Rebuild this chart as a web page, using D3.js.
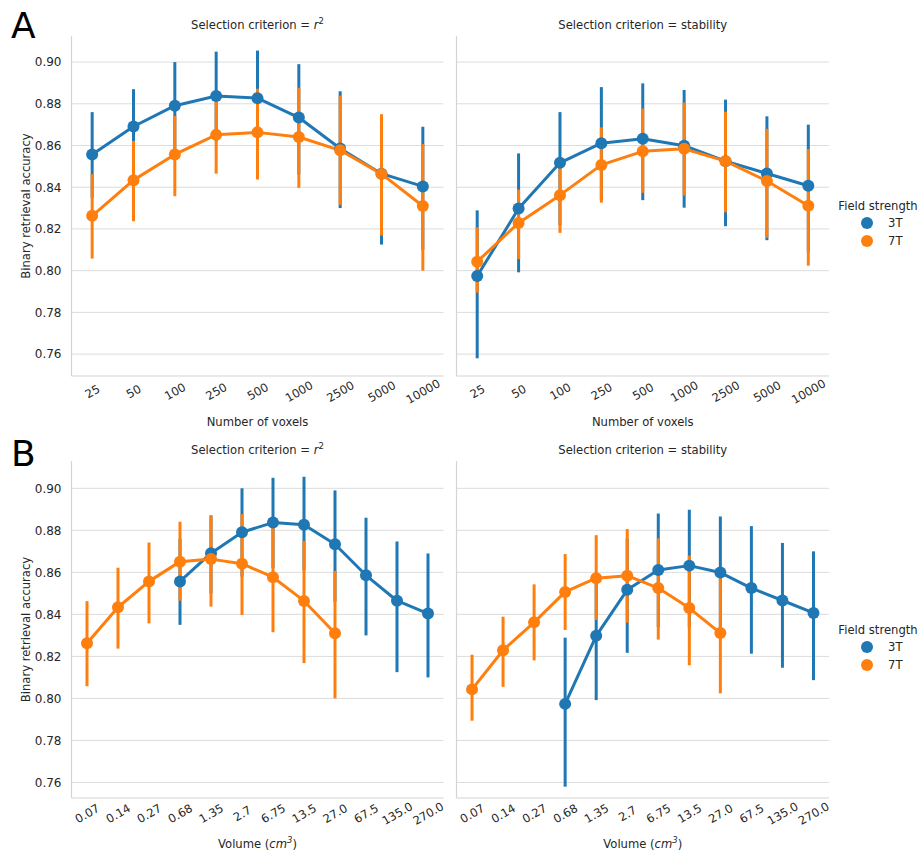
<!DOCTYPE html>
<html>
<head>
<meta charset="utf-8">
<script src="https://cdn.jsdelivr.net/npm/d3@7/dist/d3.min.js"></script>
<style>
  html, body { margin: 0; padding: 0; background: #fff; }
  svg { display: block; font-family: "DejaVu Sans", sans-serif; }
</style>
</head>
<body>
<svg id="chart" width="920" height="853"></svg>
<script>
// Voxel-count and volume categories
const voxelLabels = ["25", "50", "100", "250", "500", "1000", "2500", "5000", "10000"];
const volumeLabels = ["0.07", "0.14", "0.27", "0.68", "1.35", "2.7", "6.75", "13.5", "27.0", "67.5", "135.0", "270.0"];
const volume3T = ["0.68", "1.35", "2.7", "6.75", "13.5", "27.0", "67.5", "135.0", "270.0"];
const volume7T = ["0.07", "0.14", "0.27", "0.68", "1.35", "2.7", "6.75", "13.5", "27.0"];
const yTicks = [0.76, 0.78, 0.80, 0.82, 0.84, 0.86, 0.88, 0.90];

const fieldStrengths = ["3T", "7T"];
const colors = ["#1f77b4", "#ff7f0e"];

// Selection criterion = r^2 : mean accuracy and 95% CI per voxel count
const r2Mean3T = [0.8557, 0.8691, 0.8791, 0.8837, 0.8827, 0.8734, 0.8586, 0.8465, 0.8404];
const r2Lo3T   = [0.8350, 0.8500, 0.8580, 0.8620, 0.8610, 0.8460, 0.8300, 0.8125, 0.8100];
const r2Hi3T   = [0.8760, 0.8870, 0.9000, 0.9050, 0.9055, 0.8990, 0.8860, 0.8747, 0.8690];
const r2Mean7T = [0.8263, 0.8434, 0.8557, 0.8651, 0.8663, 0.8641, 0.8577, 0.8464, 0.8310];
const r2Lo7T   = [0.8058, 0.8237, 0.8357, 0.8465, 0.8437, 0.8397, 0.8315, 0.8168, 0.8000];
const r2Hi7T   = [0.8463, 0.8622, 0.8742, 0.8841, 0.8872, 0.8877, 0.8839, 0.8750, 0.8607];

// Selection criterion = stability
const stMean3T = [0.7974, 0.8298, 0.8517, 0.8611, 0.8632, 0.8599, 0.8525, 0.8466, 0.8407];
const stLo3T   = [0.7580, 0.7992, 0.8217, 0.8340, 0.8338, 0.8302, 0.8213, 0.8146, 0.8087];
const stHi3T   = [0.8289, 0.8562, 0.8760, 0.8880, 0.8898, 0.8866, 0.8820, 0.8740, 0.8700];
const stMean7T = [0.8043, 0.8229, 0.8362, 0.8507, 0.8572, 0.8584, 0.8525, 0.8430, 0.8311];
const stLo7T   = [0.7894, 0.8055, 0.8181, 0.8326, 0.8373, 0.8360, 0.8280, 0.8158, 0.8024];
const stHi7T   = [0.8208, 0.8389, 0.8543, 0.8687, 0.8777, 0.8806, 0.8762, 0.8680, 0.8583];

function makeSeries(cats, mean, lo, hi) {
  return cats.map((c, i) => ({ cat: c, mean: mean[i], lo: lo[i], hi: hi[i] }));
}

const svg = d3.select("#chart");
const textFill = "#262626";

function drawPanel(opts) {
  const { x0, x1, yTop, yBottom, yDomain, categories, series, title, xLabel, showY } = opts;
  const g = svg.append("g");
  const x = d3.scalePoint().domain(categories).range([x0, x1]).padding(0.5);
  const y = d3.scaleLinear().domain(yDomain).range([yBottom, yTop]);

  // horizontal grid
  g.append("g").selectAll("line").data(yTicks).join("line")
    .attr("x1", x0).attr("x2", x1)
    .attr("y1", d => y(d)).attr("y2", d => y(d))
    .attr("stroke", "#dcdcdc").attr("stroke-width", 1);

  // spines
  g.append("line").attr("x1", x0).attr("x2", x0).attr("y1", yTop).attr("y2", yBottom)
    .attr("stroke", "#d4d4d4").attr("stroke-width", 1.2);
  g.append("line").attr("x1", x0).attr("x2", x1).attr("y1", yBottom).attr("y2", yBottom)
    .attr("stroke", "#d4d4d4").attr("stroke-width", 1.2);

  // y tick labels
  if (showY) {
    const ya = d3.axisLeft(y).tickValues(yTicks).tickFormat(d3.format(".2f")).tickSize(0).tickPadding(10);
    const ag = g.append("g").attr("transform", `translate(${x0},0)`).call(ya);
    ag.select(".domain").remove();
    ag.selectAll("text").attr("font-size", 12).attr("fill", textFill)
      .attr("font-family", "DejaVu Sans, sans-serif");
  }

  // x tick labels, rotated
  const xa = d3.axisBottom(x).tickSize(0).tickPadding(0);
  const xg = g.append("g").attr("transform", `translate(0,${yBottom})`).call(xa);
  xg.select(".domain").remove();
  xg.selectAll("text")
    .attr("font-size", 11.6).attr("fill", textFill)
    .attr("font-family", "DejaVu Sans, sans-serif")
    .attr("text-anchor", "middle")
    .attr("dy", null).attr("y", 0)
    .attr("transform", "translate(0,16) rotate(-30)")
    .attr("dominant-baseline", "middle");

  // lines and confidence bars, per field strength
  series.forEach((s, k) => {
    const line = d3.line().x(d => x(d.cat)).y(d => y(d.mean));
    g.append("path").datum(s).attr("d", line)
      .attr("fill", "none").attr("stroke", colors[k]).attr("stroke-width", 3)
      .attr("stroke-linejoin", "round");
    g.append("g").selectAll("line").data(s).join("line")
      .attr("x1", d => x(d.cat)).attr("x2", d => x(d.cat))
      .attr("y1", d => y(d.lo)).attr("y2", d => y(d.hi))
      .attr("stroke", colors[k]).attr("stroke-width", 3);
  });
  // point markers on top
  series.forEach((s, k) => {
    g.append("g").selectAll("circle").data(s).join("circle")
      .attr("cx", d => x(d.cat)).attr("cy", d => y(d.mean)).attr("r", 6)
      .attr("fill", colors[k]);
  });

  // panel title
  const t = g.append("text").attr("x", (x0 + x1) / 2).attr("y", yTop - 7)
    .attr("text-anchor", "middle").attr("font-size", 11.6).attr("fill", textFill);
  t.append("tspan").text(title.text);
  if (title.italic) {
    t.append("tspan").attr("font-style", "italic").text(title.italic);
    t.append("tspan").attr("font-size", 8.5).attr("dy", -5).text("2");
  }

  // x label
  const xl = g.append("text").attr("x", (x0 + x1) / 2).attr("y", yBottom + 50)
    .attr("text-anchor", "middle").attr("font-size", 11.6).attr("fill", textFill);
  xl.append("tspan").text(xLabel.pre);
  if (xLabel.italic) {
    xl.append("tspan").attr("font-style", "italic").text(xLabel.italic);
    xl.append("tspan").attr("font-size", 8.5).attr("dy", -5).attr("font-style", "italic").text("3");
    xl.append("tspan").attr("dy", 5).text(xLabel.post);
  }

  // y label
  if (showY) {
    g.append("text")
      .attr("transform", `translate(${x0 - 42},${(yTop + yBottom) / 2}) rotate(-90)`)
      .attr("text-anchor", "middle").attr("font-size", 11.6).attr("fill", textFill)
      .text("Binary retrieval accuracy");
  }
}

function drawLegend(xc, yTitle) {
  const g = svg.append("g");
  g.append("text").attr("x", xc).attr("y", yTitle).attr("text-anchor", "middle")
    .attr("font-size", 11.6).attr("fill", textFill).text("Field strength");
  fieldStrengths.forEach((f, i) => {
    const yy = yTitle + 17 + i * 18;
    g.append("circle").attr("cx", xc - 11).attr("cy", yy - 4).attr("r", 6).attr("fill", colors[i]);
    g.append("text").attr("x", xc + 10).attr("y", yy).attr("font-size", 11.6)
      .attr("fill", textFill).text(f);
  });
}

const topY = { yTop: 36, yBottom: 376, yDomain: [0.7495, 0.9125] };
const botY = { yTop: 461, yBottom: 798, yDomain: [0.7526, 0.9130] };

// Row A: accuracy vs number of voxels
drawPanel(Object.assign({
  x0: 71.5, x1: 443.5, categories: voxelLabels,
  series: [makeSeries(voxelLabels, r2Mean3T, r2Lo3T, r2Hi3T), makeSeries(voxelLabels, r2Mean7T, r2Lo7T, r2Hi7T)],
  title: { text: "Selection criterion = ", italic: "r" },
  xLabel: { pre: "Number of voxels" }, showY: true
}, topY));
drawPanel(Object.assign({
  x0: 456.5, x1: 829, categories: voxelLabels,
  series: [makeSeries(voxelLabels, stMean3T, stLo3T, stHi3T), makeSeries(voxelLabels, stMean7T, stLo7T, stHi7T)],
  title: { text: "Selection criterion = stability" },
  xLabel: { pre: "Number of voxels" }, showY: false
}, topY));

// Row B: accuracy vs voxel volume
drawPanel(Object.assign({
  x0: 71.5, x1: 443.5, categories: volumeLabels,
  series: [makeSeries(volume3T, r2Mean3T, r2Lo3T, r2Hi3T), makeSeries(volume7T, r2Mean7T, r2Lo7T, r2Hi7T)],
  title: { text: "Selection criterion = ", italic: "r" },
  xLabel: { pre: "Volume (", italic: "cm", post: ")" }, showY: true
}, botY));
drawPanel(Object.assign({
  x0: 456.5, x1: 829, categories: volumeLabels,
  series: [makeSeries(volume3T, stMean3T, stLo3T, stHi3T), makeSeries(volume7T, stMean7T, stLo7T, stHi7T)],
  title: { text: "Selection criterion = stability" },
  xLabel: { pre: "Volume (", italic: "cm", post: ")" }, showY: false
}, botY));

drawLegend(878, 210);
drawLegend(878, 634);

// panel letters
svg.append("text").attr("x", 11).attr("y", 38).attr("font-size", 36).attr("fill", "#000").text("A");
svg.append("text").attr("x", 11).attr("y", 466).attr("font-size", 36).attr("fill", "#000").text("B");
</script>
</body>
</html>
